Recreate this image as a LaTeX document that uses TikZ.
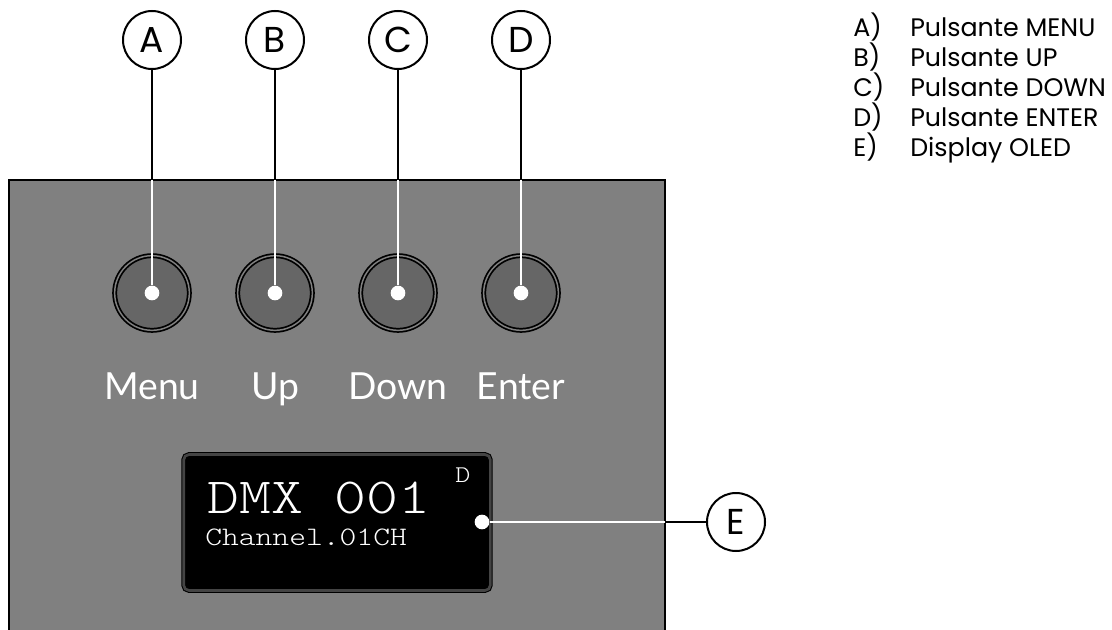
\documentclass[tikz,border=0pt]{standalone}
\usepackage{fontspec}
\setmainfont{Poppins}
\newfontfamily\keyfont{Lato}
\newfontfamily\oledfont[FakeStretch=1.2]{Latin Modern Mono Light}
\usetikzlibrary{positioning,calc}
\definecolor{panelgray}{HTML}{808080}
\definecolor{keygray}{HTML}{666666}
\definecolor{rimgray}{HTML}{444444}

\begin{document}
\begin{tikzpicture}[x=0.75pt,y=-0.75pt,
  callout/.style={circle,draw,line width=1.5pt,fill=white,minimum size=43.5pt,inner sep=0pt,font=\fontsize{27}{27}\selectfont},
  key/.style={circle,draw,line width=1.3pt,double=panelgray,double distance=1.1pt,fill=keygray,minimum size=56pt,inner sep=0pt},
  dot/.style={circle,fill=white,minimum size=11pt,inner sep=0pt},
  keylabel/.style={anchor=base,inner sep=0pt,text=white,font=\keyfont\fontsize{28}{28}\selectfont},
  oled/.style={anchor=base west,inner sep=0pt,text=white},
  lead/.style={line width=1.5pt},
  leadw/.style={line width=1.5pt,white},
  legend/.style={anchor=base west,inner sep=0pt,font=\fontsize{19}{19}\selectfont}]
\useasboundingbox (0,0) rectangle (1112,630);
% front panel, cut off at the bottom
\fill[panelgray] (9,180) rectangle (665,640);
\draw[line width=1.5pt] (9,640) -- (9,180) -- (665,180) -- (665,640);
\coordinate (ptop) at (0,180);
\coordinate (pright) at (665,0);
% keys with callouts
\foreach \n/\x/\l in {A/152/Menu,B/275/Up,C/398/Down,D/521/Enter} {
  \node[key] (key\n) at (\x,293) {};
  \node[dot] (dot\n) at (key\n) {};
  \node[keylabel] (lab\n) at (\x,399) {\l};
  \node[callout] (\n) at (\x,40) {\n};
  \draw[lead] (\n) -- (\n |- ptop);
  \draw[leadw] (\n |- ptop) -- (dot\n);
}
% OLED display
\node[draw=black,line width=0.8pt,double=rimgray,double distance=2pt,fill=black,rounded corners=4pt,minimum width=230pt,minimum height=102pt] (disp) at (337,522.5) {};
\node[oled,font=\oledfont\fontsize{38}{38}\selectfont] (dmx) at (207,513) {DMX 001};
\node[oled,font=\oledfont\fontsize{20}{20}\selectfont] (chan) at (205,545) {Channel.01CH};
\node[inner sep=0pt,text=white,font=\oledfont\fontsize{18}{18}\selectfont] (mode) at (463,475) {D};
\node[dot] (dotE) at (482,522) {};
\node[callout] (E) at (736,522) {E};
\draw[leadw] (dotE) -- (dotE -| pright);
\draw[lead] (dotE -| pright) -- (E);
% legend
\foreach \n/\t [count=\i from 0] in {A/Pulsante MENU,B/Pulsante UP,C/Pulsante DOWN,D/Pulsante ENTER,E/Display OLED} {
  \node[legend] (leg\n) at (853,37+30*\i) {\n)};
  \node[legend] (txt\n) at (910,37+30*\i) {\t};
}
\end{tikzpicture}
\end{document}
